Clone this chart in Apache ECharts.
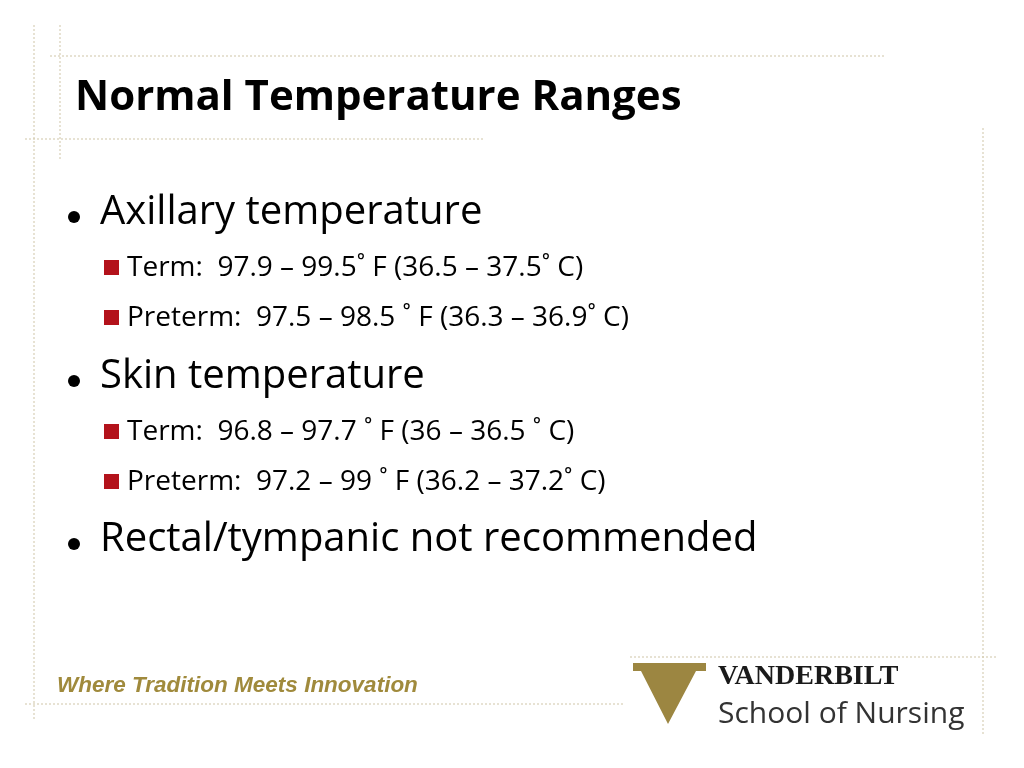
<!DOCTYPE html>
<html>
<head>
<meta charset="utf-8">
<script src="https://cdn.jsdelivr.net/npm/echarts@6/dist/echarts.min.js"></script>
<style>html,body{margin:0;padding:0;background:#fff}#c{width:1024px;height:768px}</style>
</head>
<body>
<div id="c"></div>
<script>
const title = 'Normal Temperature Ranges';
const bulletTexts = [
  'Axillary temperature',
  'Term:  97.9 – 99.5˚ F (36.5 – 37.5˚ C)',
  'Preterm:  97.5 – 98.5 ˚ F (36.3 – 36.9˚ C)',
  'Skin temperature',
  'Term:  96.8 – 97.7 ˚ F (36 – 36.5 ˚ C)',
  'Preterm:  97.2 – 99 ˚ F (36.2 – 37.2˚ C)',
  'Rectal/tympanic not recommended'
];
const bulletLevels = [1, 2, 2, 1, 2, 2, 1];
const bulletY = [213, 268, 318, 377, 432, 482, 540];
const tagline = 'Where Tradition Meets Innovation';

const font = '"Open Sans", "Noto Sans", sans-serif';
const dotColor = '#cfc6a8';
const chart = echarts.init(document.getElementById('c'));

function dotted(x1, y1, x2, y2) {
  return { type: 'line', shape: { x1, y1, x2, y2 },
    style: { stroke: dotColor, lineWidth: 1, lineDash: [2, 2] } };
}

const g = [
  dotted(34, 25, 34, 720),
  dotted(60, 25, 60, 160),
  dotted(50, 56, 885, 56),
  dotted(25, 139, 485, 139),
  dotted(983, 128, 983, 735),
  dotted(630, 657, 998, 657),
  dotted(25, 704, 625, 704),
  { type: 'text', x: 75, y: 98,
    style: { text: title, font: 'bold 42px ' + font, fill: '#000', verticalAlign: 'middle' } }
];

bulletTexts.forEach((t, i) => {
  const y = bulletY[i];
  if (bulletLevels[i] === 1) {
    g.push({ type: 'circle', shape: { cx: 74, cy: y + 4, r: 6 }, style: { fill: '#000' } });
    g.push({ type: 'text', x: 100, y: y, style: { text: t, font: '40px ' + font,
      fill: '#000', verticalAlign: 'middle' } });
  } else {
    g.push({ type: 'rect', shape: { x: 104, y: y - 8, width: 15, height: 15 }, style: { fill: '#b3121b' } });
    g.push({ type: 'text', x: 127, y: y, style: { text: t, font: '28px ' + font,
      fill: '#000', verticalAlign: 'middle' } });
  }
});

g.push({ type: 'text', x: 57, y: 686, style: { text: tagline,
  font: 'italic bold 22.5px "Liberation Sans", Arial, sans-serif', fill: '#a08a3c', verticalAlign: 'middle' } });

// logo
g.push({ type: 'polygon', shape: { points: [[633, 663], [706, 663], [706, 671], [696, 671], [668, 724], [641, 671], [633, 671]] },
  style: { fill: '#9c8641' } });
g.push({ type: 'text', x: 718, y: 677, style: { text: 'VANDERBILT',
  font: 'bold 28px "Liberation Serif", "DejaVu Serif", serif', fill: '#1a1a1a', verticalAlign: 'middle' } });
g.push({ type: 'text', x: 718, y: 714, style: { text: 'School of Nursing',
  font: '30px "Open Sans", "Noto Sans", sans-serif', fill: '#333', verticalAlign: 'middle' } });

chart.setOption({ backgroundColor: '#fff', graphic: { elements: g } });
</script>
</body>
</html>
